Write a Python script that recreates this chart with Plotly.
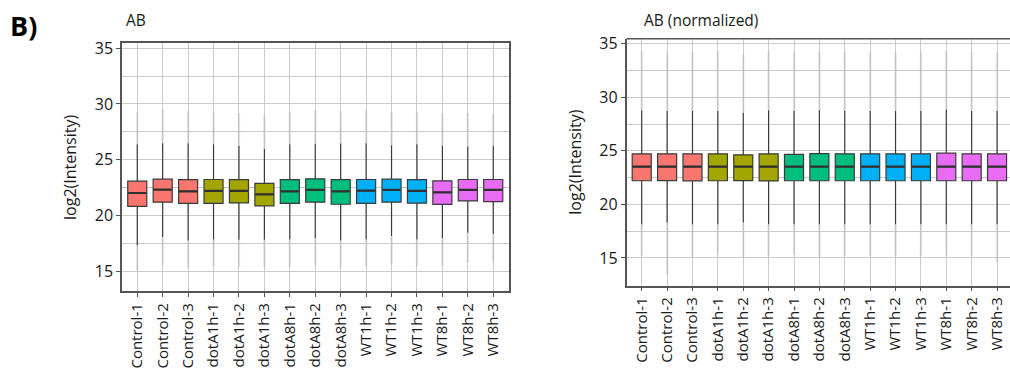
import plotly.graph_objects as go

# Sample names (x axis) and their group membership
samples = ["Control-1", "Control-2", "Control-3",
           "dotA1h-1", "dotA1h-2", "dotA1h-3",
           "dotA8h-1", "dotA8h-2", "dotA8h-3",
           "WT1h-1", "WT1h-2", "WT1h-3",
           "WT8h-1", "WT8h-2", "WT8h-3"]
groups = ["Control", "dotA1h", "dotA8h", "WT1h", "WT8h"]
group_colors = ["#F8766D", "#A3A500", "#00BF7D", "#00B0F6", "#E76BF3"]

# Raw log2 intensities: box summary per sample
raw_q1 = [20.80, 21.18, 21.07, 21.07, 21.12, 20.86, 21.07, 21.18, 21.00,
          21.07, 21.18, 21.09, 20.98, 21.30, 21.24]
raw_med = [22.01, 22.31, 22.16, 22.19, 22.19, 21.89, 22.16, 22.28, 22.16,
           22.22, 22.28, 22.19, 22.07, 22.28, 22.28]
raw_q3 = [23.08, 23.25, 23.20, 23.22, 23.20, 22.87, 23.20, 23.28, 23.20,
          23.22, 23.25, 23.20, 23.10, 23.22, 23.22]
raw_lo = [17.31, 18.05, 17.75, 17.84, 17.81, 17.81, 17.84, 17.96, 17.75,
          17.84, 18.14, 17.84, 17.96, 18.43, 18.34]
raw_hi = [26.39, 26.48, 26.48, 26.39, 26.24, 25.98, 26.39, 26.42, 26.45,
          26.48, 26.30, 26.39, 26.24, 26.18, 26.24]
raw_out_min = [15.0, 15.5, 15.3, 15.4, 15.4, 15.3, 15.4, 15.5, 15.3,
               15.4, 15.6, 15.4, 15.5, 15.8, 15.7]
raw_out_max = [29.3, 29.5, 29.4, 29.3, 29.2, 29.0, 29.3, 29.4, 29.4,
               29.4, 29.3, 29.3, 29.2, 29.2, 29.2]

# Normalized log2 intensities: box summary per sample
norm_q1 = [22.21, 22.22, 22.20, 22.21, 22.22, 22.19, 22.21, 22.21, 22.21,
           22.21, 22.21, 22.21, 22.21, 22.21, 22.21]
norm_med = [23.53, 23.53, 23.53, 23.53, 23.53, 23.53, 23.53, 23.53, 23.53,
            23.53, 23.53, 23.53, 23.53, 23.53, 23.53]
norm_q3 = [24.72, 24.72, 24.72, 24.72, 24.63, 24.72, 24.68, 24.75, 24.72,
           24.72, 24.72, 24.72, 24.78, 24.72, 24.72]
norm_lo = [18.16, 18.31, 18.16, 18.16, 18.31, 18.16, 18.16, 18.16, 18.16,
           18.16, 18.16, 18.16, 18.16, 18.16, 18.16]
norm_hi = [28.79, 28.73, 28.73, 28.73, 28.55, 28.79, 28.73, 28.79, 28.73,
           28.73, 28.73, 28.73, 28.85, 28.73, 28.73]
norm_out_min = [15.2, 13.5, 15.0, 15.3, 15.0, 15.2, 15.3, 15.0, 15.2,
                15.2, 15.2, 15.2, 15.2, 15.2, 14.6]
norm_out_max = [34.3, 34.2, 34.2, 34.3, 34.0, 34.3, 34.2, 34.3, 34.2,
                34.2, 34.2, 34.2, 34.3, 34.2, 34.2]

yticks = [15, 20, 25, 30, 35]

W, H = 1010, 381
FONT = "Open Sans"
BOX_W = 0.75
OUTLINE = "#3a3a3a"
GRID = "#cbcbcb"
TEXT = "#1a1a1a"

fig = go.Figure()


def add_panel(xa, ya, q1, med, q3, lo, hi, out_min, out_max):
    idx = list(range(len(samples)))
    # faint outlier streaks above and below the whiskers
    ox, oy = [], []
    for i in idx:
        ox += [i, i, None, i, i, None]
        oy += [hi[i], out_max[i], None, lo[i], out_min[i], None]
    fig.add_trace(go.Scatter(
        x=ox, y=oy, mode="lines", xaxis=xa, yaxis=ya,
        line=dict(color="rgba(185,185,185,0.45)", width=2.2),
        hoverinfo="skip", showlegend=False))
    for g, col in zip(groups, group_colors):
        sel = [i for i, s in enumerate(samples) if s.startswith(g + "-")]
        fig.add_trace(go.Box(
            x=sel,
            q1=[q1[i] for i in sel], median=[med[i] for i in sel],
            q3=[q3[i] for i in sel], lowerfence=[lo[i] for i in sel],
            upperfence=[hi[i] for i in sel],
            width=BOX_W, fillcolor=col,
            line=dict(color=OUTLINE, width=1.2),
            whiskerwidth=0, boxpoints=False,
            xaxis=xa, yaxis=ya, name=g, showlegend=False))
    # thicker median bars
    mx, my = [], []
    for i in idx:
        mx += [i - BOX_W / 2 + 0.02, i + BOX_W / 2 - 0.02, None]
        my += [med[i], med[i], None]
    fig.add_trace(go.Scatter(
        x=mx, y=my, mode="lines", xaxis=xa, yaxis=ya,
        line=dict(color="#303030", width=2.2),
        hoverinfo="skip", showlegend=False))


add_panel("x", "y", raw_q1, raw_med, raw_q3, raw_lo, raw_hi,
          raw_out_min, raw_out_max)
add_panel("x2", "y2", norm_q1, norm_med, norm_q3, norm_lo, norm_hi,
          norm_out_min, norm_out_max)

xaxis_common = dict(
    tickmode="array", tickvals=list(range(len(samples))), ticktext=samples,
    tickangle=-90, showgrid=True, gridcolor=GRID, gridwidth=1.3,
    zeroline=False, ticks="outside", ticklen=4, tickcolor="#555555",
    tickfont=dict(family=FONT, size=15, color=TEXT),
    showline=True, linecolor="#555555", linewidth=1.5,
)
yaxis_common = dict(
    tickmode="array", tickvals=yticks, ticktext=[str(v) for v in yticks],
    showgrid=True, gridcolor=GRID, gridwidth=1.3,
    minor=dict(dtick=5, tick0=2.5, showgrid=True, gridcolor=GRID,
               gridwidth=1.3),
    zeroline=False, ticks="outside", ticklen=4, tickcolor="#555555",
    tickfont=dict(family=FONT, size=16, color=TEXT),
    showline=True, linecolor="#555555", linewidth=1.5,
    title=dict(text="log2(Intensity)",
               font=dict(family=FONT, size=16, color=TEXT),
               standoff=14),
)

fig.update_layout(
    width=W, height=H,
    margin=dict(l=0, r=0, t=0, b=0),
    paper_bgcolor="white", plot_bgcolor="white",
    boxmode="overlay",
    xaxis=dict(xaxis_common, domain=[122 / W, 508.5 / W],
               range=[-0.6, 14.6], mirror=True),
    yaxis=dict(yaxis_common, domain=[1 - 290 / H, 1 - 38 / H],
               range=[13.17, 35.44], mirror=True),
    xaxis2=dict(xaxis_common, domain=[626.5 / W, 1.0],
                range=[-0.6, 14.51], anchor="y2"),
    yaxis2=dict(yaxis_common, domain=[1 - 284 / H, 1 - 33.3 / H],
                range=[12.43, 35.46], anchor="x2"),
    annotations=[
        dict(text="<b>B)</b>", x=8 / W, y=1 - 20 / H, xref="paper",
             yref="paper", xanchor="left", yanchor="middle", showarrow=False,
             font=dict(family=FONT, size=27, color="black")),
        dict(text="AB", x=124 / W, y=1 - 14 / H, xref="paper",
             yref="paper", xanchor="left", yanchor="middle", showarrow=False,
             font=dict(family=FONT, size=15.5, color=TEXT)),
        dict(text="AB (normalized)", x=642 / W, y=1 - 14 / H, xref="paper",
             yref="paper", xanchor="left", yanchor="middle", showarrow=False,
             font=dict(family=FONT, size=15.5, color=TEXT)),
    ],
)

# top border of the right panel (its right edge lies beyond the canvas)
fig.add_shape(type="line", xref="x2 domain", yref="y2 domain",
              x0=0, x1=1, y0=1, y1=1,
              line=dict(color="#555555", width=1.5))

fig.write_html("out.html")
